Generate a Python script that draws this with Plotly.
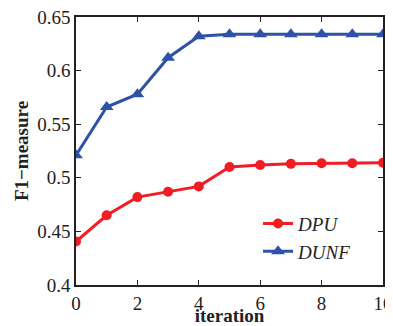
import plotly.graph_objects as go

iterations = [0, 1, 2, 3, 4, 5, 6, 7, 8, 9, 10]
dpu = [0.4405, 0.465, 0.482, 0.487, 0.492, 0.510, 0.512, 0.513, 0.5135, 0.5135, 0.514]
dunf = [0.521, 0.566, 0.578, 0.612, 0.632, 0.634, 0.634, 0.634, 0.634, 0.634, 0.634]

serif = "Liberation Serif"

fig = go.Figure()
fig.add_trace(go.Scatter(x=iterations, y=dpu, name="DPU", mode="lines+markers",
                         line=dict(color="#f21c24", width=3),
                         marker=dict(symbol="circle", size=10, color="#f21c24")))
fig.add_trace(go.Scatter(x=iterations, y=dunf, name="DUNF", mode="lines+markers",
                         line=dict(color="#2d52a8", width=3),
                         marker=dict(symbol="triangle-up", size=12, color="#2d52a8")))

axis_common = dict(showgrid=False, zeroline=False, showline=True, linecolor="#222",
                   linewidth=1.5, mirror="ticks", ticks="inside", ticklen=5,
                   tickcolor="#222", automargin=False, ticklabeloverflow="allow",
                   tickfont=dict(family=serif, size=19, color="#222"))

# page body has an 8px offset, so the figure is sized/margined to compensate
fig.update_layout(
    width=385, height=318,
    margin=dict(l=68, r=10, t=9, b=41),
    paper_bgcolor="white", plot_bgcolor="white",
    xaxis=dict(range=[0, 10], tickvals=[0, 2, 4, 6, 8, 10],
               title=dict(text="<b>iteration</b>", font=dict(family=serif, size=19, color="#222"), standoff=0),
               **axis_common),
    yaxis=dict(range=[0.4, 0.65], tickvals=[0.4, 0.45, 0.5, 0.55, 0.6, 0.65],
               ticktext=["0.4", "0.45", "0.5", "0.55", "0.6", "0.65"],
               title=dict(text="<b>F1−measure</b>", font=dict(family=serif, size=19, color="#222"), standoff=4),
               **axis_common),
    legend=dict(x=0.593, y=0.30, xanchor="left", yanchor="top",
                bgcolor="rgba(0,0,0,0)", borderwidth=0,
                font=dict(family=serif, size=19, color="#222", style="italic"),
                itemwidth=30, tracegroupgap=0),
    showlegend=True,
)

fig.write_html("out.html")
